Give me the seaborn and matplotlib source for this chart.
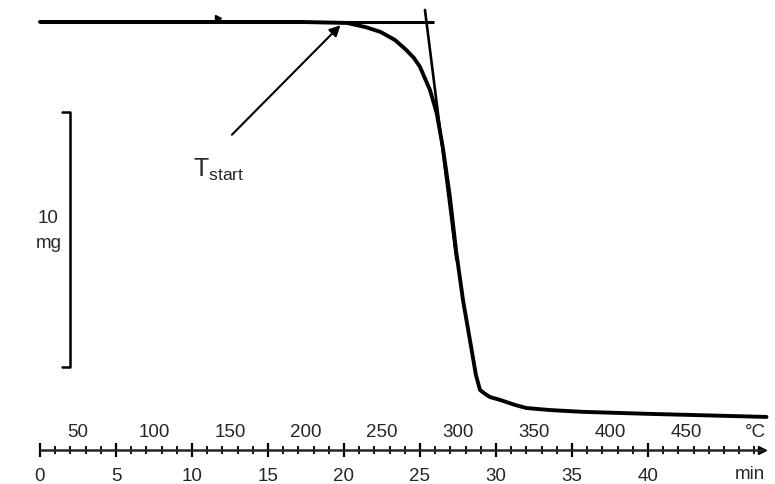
import numpy as np
import pandas as pd
import matplotlib
matplotlib.use("Agg")
import matplotlib.pyplot as plt
import seaborn as sns

sns.set_style("white")
plt.rcParams['font.family'] = ['Liberation Sans', 'DejaVu Sans']
plt.rcParams['mathtext.fontset'] = 'custom'
plt.rcParams['mathtext.rm'] = 'Liberation Sans'

# TGA curve: time (min) vs sample mass (mg)
time_min = [0, 17.1, 20.2, 21.4, 22.4, 23.36, 24.1, 24.6, 25.0, 25.66, 26.1, 26.5,
            26.97, 27.37, 27.83, 28.4, 28.68, 28.95, 29.2, 29.6, 30.26, 31.25,
            32.0, 33.55, 35.7, 40.1, 47.8]
mass_mg = [16.0, 16.0, 15.96, 15.8, 15.61, 15.29, 14.90, 14.59, 14.24, 13.33, 12.43,
           11.10, 9.14, 7.06, 5.10, 3.14, 2.16, 1.57, 1.45, 1.29, 1.18, 0.98,
           0.86, 0.78, 0.71, 0.63, 0.51]

# baseline and steepest tangent used to find T_start
baseline_t = [0, 25.9]
baseline_m = [16.0, 16.0]
tangent_t = [25.33, 27.4]
tangent_m = [16.47, 6.67]

minute_ticks = [0, 5, 10, 15, 20, 25, 30, 35, 40]
temp_labels = [50, 100, 150, 200, 250, 300, 350, 400, 450]

df = pd.DataFrame({'t': time_min, 'm': mass_mg})

fig = plt.figure(figsize=(7.75, 4.84), dpi=100)
ax = fig.add_axes([0, 0, 1, 1])
ax.set_xlim(-2.63, 48.36)
ax.set_ylim(-2.12, 16.86)

sns.lineplot(data=df, x='t', y='m', color='black', lw=2.8, sort=False, ax=ax)
ax.plot(baseline_t, baseline_m, color='black', lw=2.2, solid_capstyle='butt')
ax.plot([11.7], [16.15], marker='>', color='black', ms=5)
ax.plot(tangent_t, tangent_m, color='black', lw=1.9)

# time axis
axis_y = -0.78
for s in ['top', 'right', 'left']:
    ax.spines[s].set_visible(False)
ax.spines['bottom'].set_position(('data', axis_y))
ax.spines['bottom'].set_bounds(0, 47.5)
ax.spines['bottom'].set_linewidth(1.8)
ax.plot([47.5], [axis_y], marker='>', color='black', ms=6)
ax.set_xticks(minute_ticks)
ax.set_xticks(np.arange(0, 48, 1), minor=True)
ax.tick_params(axis='x', which='both', bottom=True, color='black')
ax.tick_params(axis='x', which='major', direction='inout', length=10, width=1.6,
               pad=8, labelsize=13.5)
ax.tick_params(axis='x', which='minor', direction='inout', length=6, width=1.3)
ax.set_yticks([])
ax.set_xlabel('')
ax.set_ylabel('')
ax.text(46.7, -1.76, 'min', fontsize=13.5, ha='center', va='center')

# temperature scale above the axis (heating at 10 K/min from 25 °C)
for T in temp_labels:
    ax.text((T - 25) / 10, -0.12, str(T), fontsize=13.5, ha='center', va='center')
ax.text(47.1, -0.12, '°C', fontsize=13.5, ha='center', va='center')

# 10 mg scale bar
ax.plot([1.45, 1.97, 1.97, 1.45], [12.45, 12.45, 2.45, 2.45], color='black', lw=1.8)
ax.text(0.55, 8.3, '10', fontsize=13.5, ha='center', va='center')
ax.text(0.55, 7.3, 'mg', fontsize=13.5, ha='center', va='center')

# T_start annotation
ax.annotate('', xy=(19.9, 15.95), xytext=(12.5, 11.5),
            arrowprops=dict(arrowstyle='-|>', color='black', lw=1.5,
                            mutation_scale=16))
ax.text(10.1, 10.2, r'$\mathregular{T_{start}}$', fontsize=18, ha='left', va='center')

fig.savefig('out.png', dpi=100)
